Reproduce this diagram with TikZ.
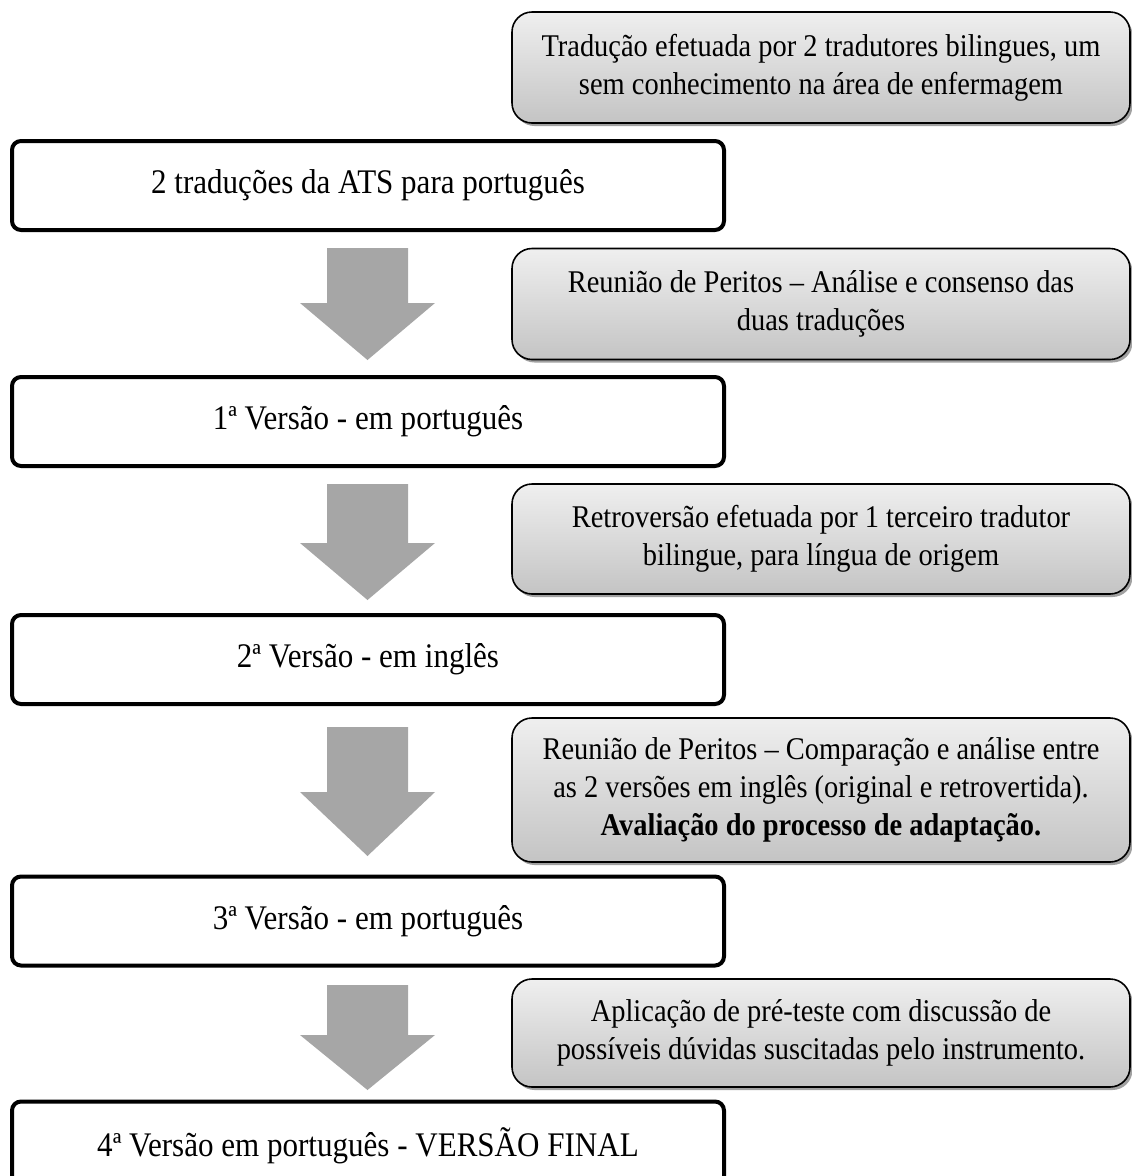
\documentclass[tikz,border=0pt]{standalone}
\usepackage{fontspec}
\setmainfont{Liberation Serif}[FakeStretch=0.9]
\usetikzlibrary{shadows,calc}
\definecolor{arrowgray}{HTML}{A6A6A6}
\definecolor{gtop}{HTML}{EFEFEF}
\definecolor{gbot}{HTML}{C4C4C4}
\definecolor{shadowgray}{HTML}{8A8A8A}
\newcommand{\blockarrow}[4]{% x-center, top y, head-base y, tip y
  \fill[arrowgray] (#1-40.5,#2) -- (#1+40.5,#2) -- (#1+40.5,#3) -- (#1+67.5,#3)
    -- (#1,#4) -- (#1-67.5,#3) -- (#1-40.5,#3) -- cycle;}
\begin{document}
\begin{tikzpicture}[x=1pt,y=-1pt,
  whitebox/.style={draw=black, line width=4pt, rounded corners=9pt, fill=white,
    minimum width=712pt, minimum height=89pt, inner sep=0pt,
    font=\fontsize{34.5}{40}\selectfont},
  graybox/.style={draw=black, line width=1.6pt, rounded corners=20pt,
    top color=gtop, bottom color=gbot,
    drop shadow={shadow xshift=2.5pt, shadow yshift=-3pt, fill=shadowgray, opacity=0.8},
    minimum width=618pt, inner sep=0pt, align=center,
    font=\fontsize{31.6}{38}\selectfont}]
\useasboundingbox (0,0) rectangle (1132,1176);

% gray (process) boxes
\node[graybox, minimum height=111pt] (g1) at (821,67.5)
  {Tradução efetuada por 2 tradutores bilingues, um\\sem conhecimento na área de enfermagem};
\node[graybox, minimum height=111pt] (g2) at (821,304)
  {Reunião de Peritos – Análise e consenso das\\duas traduções};
\node[graybox, minimum height=110pt] (g3) at (821,539)
  {Retroversão efetuada por 1 terceiro tradutor\\bilingue, para língua de origem};
\node[graybox, minimum height=144pt] (g4) at (821,790)
  {Reunião de Peritos – Comparação e análise entre\\as 2 versões em inglês (original e retrovertida).\\\textbf{Avaliação do processo de adaptação.}};
\node[graybox, minimum height=108pt] (g5) at (821,1033)
  {Aplicação de pré-teste com discussão de\\possíveis dúvidas suscitadas pelo instrumento.};

% white (version) boxes
\node[whitebox] (w1) at (368,185.5) {2 traduções da ATS para português};
\node[whitebox] (w2) at (368,421.5) {1ª Versão - em português};
\node[whitebox] (w3) at (368,659.5) {2ª Versão - em inglês};
\node[whitebox] (w4) at (368,921)   {3ª Versão - em português};
\node[whitebox] (w5) at (368,1146)  {4ª Versão em português - VERSÃO FINAL};

% block arrows
\blockarrow{367.5}{248}{303}{360}
\blockarrow{367.5}{484}{543}{600}
\blockarrow{367.5}{727}{792}{856}
\blockarrow{367.5}{985}{1035}{1090}
\end{tikzpicture}
\end{document}
